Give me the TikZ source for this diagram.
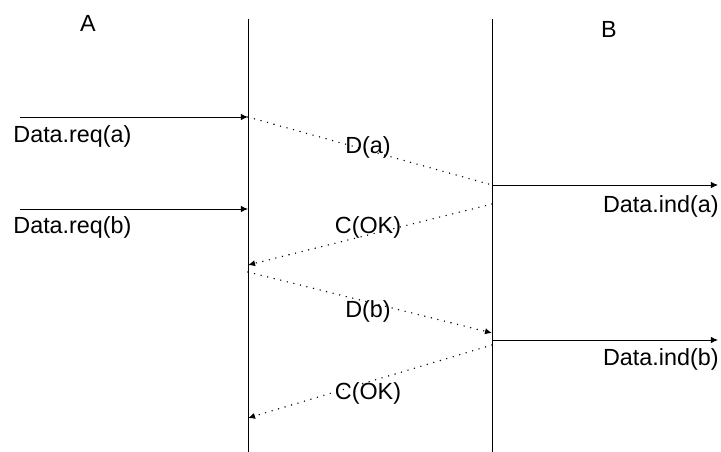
\documentclass[tikz,border=0pt]{standalone}
\usepackage{fontspec}
\setmainfont{Liberation Sans}
\usetikzlibrary{arrows.meta}
\begin{document}
\begin{tikzpicture}[x=0.025cm, y=-0.025cm, line width=0.6pt,
  lbl/.style={font=\fontsize{16.6}{19}\selectfont, inner sep=0pt},
  prim/.style={-{Latex[length=5pt,width=4.5pt]}},
  pdu/.style={line width=1.1pt, line cap=round, dash pattern=on 0pt off 4.8pt}]
  \useasboundingbox (0,0) rectangle (721,452);
  % lifelines
  \coordinate (Atop) at (248,19);  \coordinate (Abot) at (248,452);
  \coordinate (Btop) at (492,19);  \coordinate (Bbot) at (492,452);
  \draw (Atop) -- (Abot);
  \draw (Btop) -- (Bbot);
  \node[lbl] (nameA) at (88,23) {A};
  \node[lbl] (nameB) at (609,29) {B};
  % service primitives
  \coordinate (reqa0) at (20,117);  \coordinate (reqa1) at (248,117);
  \coordinate (reqb0) at (20,209);  \coordinate (reqb1) at (248,209);
  \coordinate (inda0) at (492,185); \coordinate (inda1) at (718,185);
  \coordinate (indb0) at (492,340); \coordinate (indb1) at (718,340);
  \draw[prim] (reqa0) -- (reqa1);
  \draw[prim] (reqb0) -- (reqb1);
  \draw[prim] (inda0) -- (inda1);
  \draw[prim] (indb0) -- (indb1);
  \node[lbl, anchor=west] (reqa) at (13,136) {Data.req(a)};
  \node[lbl, anchor=west] (reqb) at (13,227) {Data.req(b)};
  \node[lbl, anchor=east] (inda) at (719,206) {Data.ind(a)};
  \node[lbl, anchor=east] (indb) at (719,359) {Data.ind(b)};
  % frames
  \coordinate (okaB) at (492,204); \coordinate (okaA) at (248,265);
  \coordinate (dbA) at (248,272);  \coordinate (dbB) at (492,333);
  \coordinate (okbB) at (492,345); \coordinate (okbA) at (248,418);
  \draw[pdu] (reqa1) -- (inda0);
  \draw[pdu, prim] (okaB) -- (okaA);
  \draw[pdu, prim] (dbA) -- (dbB);
  \draw[pdu, prim] (okbB) -- (okbA);
  \node[lbl] (da) at (368,147) {D(a)};
  \node[lbl] (oka) at (368,227) {C(OK)};
  \node[lbl] (db) at (368,311) {D(b)};
  \node[lbl] (okb) at (368,393) {C(OK)};
\end{tikzpicture}
\end{document}
